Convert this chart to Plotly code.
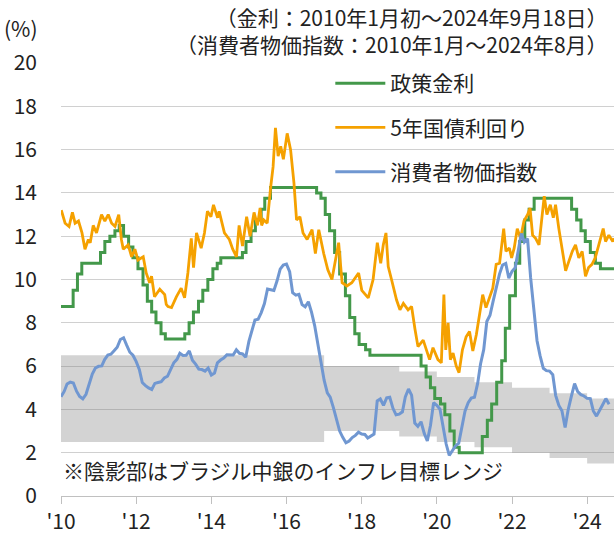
import plotly.graph_objects as go
import pandas as pd

# ---------------- data ----------------
selic_dates = ["2010-01-01","2010-04-29","2010-06-10","2010-07-22","2011-01-20","2011-03-03","2011-04-21","2011-06-09",
               "2011-07-21","2011-09-01","2011-10-20","2011-12-01","2012-01-19","2012-03-08","2012-04-19","2012-05-31",
               "2012-07-12","2012-08-30","2012-10-11","2013-04-18","2013-05-30","2013-07-11","2013-08-29","2013-10-10",
               "2013-11-28","2014-01-16","2014-02-27","2014-04-03","2014-10-30","2014-12-04","2015-01-22","2015-03-05",
               "2015-04-30","2015-06-04","2015-07-30","2016-10-20","2016-12-01","2017-01-12","2017-02-23","2017-04-13",
               "2017-06-01","2017-07-27","2017-09-07","2017-10-26","2017-12-07","2018-02-08","2018-03-22","2019-08-01",
               "2019-09-19","2019-10-31","2019-12-12","2020-02-06","2020-03-19","2020-05-07","2020-06-18","2020-08-06",
               "2021-03-18","2021-05-06","2021-06-17","2021-08-05","2021-09-23","2021-10-28","2021-12-09","2022-02-03",
               "2022-03-17","2022-05-05","2022-06-16","2022-08-04","2023-08-03","2023-09-21","2023-11-02","2023-12-14",
               "2024-02-01","2024-03-21","2024-05-09","2024-09-18"]
selic_rates = [8.75,9.5,10.25,10.75,11.25,11.75,12.0,12.25,
               12.5,12.0,11.5,11.0,10.5,9.75,9.0,8.5,
               8.0,7.5,7.25,7.5,8.0,8.5,9.0,9.5,
               10.0,10.5,10.75,11.0,11.25,11.75,12.25,12.75,
               13.25,13.75,14.25,14.0,13.75,13.0,12.25,11.25,
               10.25,9.25,8.25,7.5,7.0,6.75,6.5,6.0,
               5.5,5.0,4.5,4.25,3.75,3.0,2.25,2.0,
               2.75,3.5,4.25,5.25,6.25,7.75,9.25,10.75,
               11.75,12.75,13.25,13.75,13.25,12.75,12.25,11.75,
               11.25,10.75,10.5,10.5]

bond_dates = ["2010-01-04","2010-02-10","2010-03-20","2010-04-22","2010-05-18","2010-06-20","2010-07-24","2010-08-22",
              "2010-09-24","2010-10-12","2010-11-10","2010-12-12","2011-01-30","2011-03-03","2011-04-05","2011-05-08",
              "2011-06-10","2011-07-16","2011-08-11","2011-08-29","2011-10-16","2011-11-18","2011-12-20","2012-01-19",
              "2012-03-10","2012-04-08","2012-05-11","2012-05-30","2012-06-28","2012-08-18","2012-10-05","2012-10-20",
              "2012-11-06","2012-12-10","2013-01-26","2013-03-14","2013-04-16","2013-05-18","2013-06-20","2013-07-12",
              "2013-08-10","2013-09-24","2013-10-26","2013-11-24","2013-12-28","2014-01-22","2014-03-03","2014-03-18",
              "2014-05-08","2014-06-25","2014-07-28","2014-09-02","2014-09-28","2014-10-31","2014-12-10","2015-01-12",
              "2015-02-20","2015-03-25","2015-04-20","2015-05-05","2015-05-26","2015-06-28","2015-07-30","2015-08-24",
              "2015-09-16","2015-10-12","2015-11-06","2015-12-02","2016-01-08","2016-02-10","2016-03-14","2016-04-08",
              "2016-05-11","2016-06-10","2016-07-20","2016-09-06","2016-10-08","2016-11-10","2016-12-28","2017-02-06",
              "2017-03-18","2017-05-22","2017-06-25","2017-08-10","2017-09-27","2017-12-02","2018-01-02","2018-03-06",
              "2018-04-22","2018-06-02","2018-07-05","2018-07-30","2018-08-25","2018-09-16","2018-10-18","2018-12-06",
              "2019-01-08","2019-02-10","2019-03-28","2019-05-01","2019-06-03","2019-07-02","2019-08-22","2019-09-20",
              "2019-10-23","2019-11-25","2020-01-12","2020-02-14","2020-03-10","2020-03-28","2020-04-20","2020-05-12",
              "2020-06-07","2020-07-08","2020-08-04","2020-09-06","2020-10-12","2020-11-14","2020-12-16","2021-01-19",
              "2021-02-21","2021-03-22","2021-04-23","2021-05-26","2021-06-28","2021-07-31","2021-09-02","2021-10-12",
              "2021-11-03","2021-12-06","2021-12-28","2022-01-22","2022-02-21","2022-03-25","2022-04-27","2022-06-02",
              "2022-06-25","2022-07-20","2022-08-18","2022-09-20","2022-10-16","2022-11-10","2022-12-06","2023-01-08",
              "2023-02-06","2023-02-28","2023-04-01","2023-05-04","2023-06-06","2023-07-08","2023-08-10","2023-09-10",
              "2023-10-12","2023-11-14","2023-12-16","2024-01-15","2024-02-17","2024-03-20","2024-04-22","2024-06-05",
              "2024-06-28","2024-07-30","2024-09-06","2024-09-18"]
bond_yields = [13.2,12.6,12.45,13.1,12.6,12.7,12.15,11.4,
               11.85,11.7,12.5,12.15,13.0,12.7,13.0,12.6,
               12.45,13.0,11.85,11.4,11.6,11.05,11.4,10.9,
               11.05,10.3,9.85,10.15,9.2,9.55,9.3,8.85,
               8.75,8.7,9.2,9.6,9.15,10.3,11.9,10.55,
               12.15,11.45,12.15,13.15,12.9,13.45,12.85,13.15,
               12.15,11.85,11.4,11.05,12.5,11.55,12.9,12.0,
               13.1,12.5,13.3,12.5,12.75,12.6,14.2,15.2,
               17.0,15.7,16.15,15.55,16.75,16.0,14.45,12.75,
               12.9,12.15,11.85,12.3,11.2,12.3,11.2,10.45,
               10.0,11.7,9.85,9.7,9.85,10.3,9.5,9.15,
               10.0,11.7,10.75,11.6,12.15,10.6,10.0,9.05,
               8.6,8.9,8.6,8.75,7.7,6.9,7.2,6.75,
               6.3,6.85,6.3,6.15,9.3,6.75,8.0,6.3,
               6.6,6.0,5.7,6.75,7.35,7.6,6.7,7.45,
               8.55,9.3,8.7,9.15,9.6,10.7,10.75,12.35,
               11.3,11.45,11.0,11.45,12.35,11.9,12.7,13.0,
               13.3,12.05,11.9,11.6,12.7,13.85,13.0,13.45,
               12.85,13.45,12.35,11.45,10.4,10.85,11.3,11.6,
               11.0,11.3,10.15,10.55,10.7,11.0,11.6,12.35,
               11.75,12.05,11.75,11.9]

cpi_start = "2010-01-01"
cpi_yoy = [4.59,4.83,5.17,5.26,5.22,4.84,4.60,4.49,4.70,5.20,5.63,5.91,
           5.99,6.01,6.30,6.51,6.55,6.71,6.87,7.23,7.31,6.97,6.64,6.50,
           6.22,5.85,5.24,5.10,4.99,4.92,5.20,5.24,5.28,5.45,5.53,5.84,
           6.15,6.31,6.59,6.49,6.50,6.70,6.27,6.09,5.86,5.84,5.77,5.91,
           5.59,5.68,6.15,6.28,6.37,6.52,6.50,6.51,6.75,6.59,6.56,6.41,
           7.14,7.70,8.13,8.17,8.47,8.89,9.56,9.53,9.49,9.93,10.48,10.67,
           10.71,10.36,9.39,9.28,9.32,8.84,8.74,8.97,8.48,7.87,6.99,6.29,
           5.35,4.76,4.57,4.08,3.60,3.00,2.71,2.46,2.54,2.70,2.80,2.95,
           2.86,2.84,2.68,2.76,2.86,4.39,4.48,4.19,4.53,4.56,4.05,3.75,
           3.78,3.89,4.58,4.94,4.66,3.37,3.22,3.43,2.89,2.54,3.27,4.31,
           4.19,4.01,3.30,2.40,1.88,2.13,2.31,2.44,3.14,3.92,4.31,4.52,
           4.56,5.20,6.10,6.76,8.06,8.35,8.99,9.68,10.25,10.67,10.74,10.06,
           10.38,10.54,11.30,12.13,11.73,11.89,10.07,8.73,7.17,6.47,5.90,5.79,
           5.77,5.60,4.65,4.18,3.94,3.16,3.99,4.61,5.19,4.82,4.68,4.62,
           4.51,4.50,3.93,3.69,3.93,4.23,4.50,4.24]

target_years = [2010,2011,2012,2013,2014,2015,2016,2017,2018,2019,2020,2021,2022,2023,2024]
target_lower = [2.5,2.5,2.5,2.5,2.5,2.5,2.5,3.0,3.0,2.75,2.5,2.25,2.0,1.75,1.5]
target_upper = [6.5,6.5,6.5,6.5,6.5,6.5,6.5,6.0,6.0,5.75,5.5,5.25,5.0,4.75,4.5]
end_date = "2024-09-18"

tick_dates = ["2010-01-01","2012-01-01","2014-01-01","2016-01-01","2018-01-01","2020-01-01","2022-01-01","2024-01-01"]
tick_labels = ["'10","'12","'14","'16","'18","'20","'22","'24"]

names = ["政策金利", "5年国債利回り", "消費者物価指数"]
title_lines = ["（金利：2010年1月初～2024年9月18日）", "（消費者物価指数：2010年1月～2024年8月）"]
note_text = "※陰影部はブラジル中銀のインフレ目標レンジ"

# ---------------- figure ----------------
FONT = "Noto Sans CJK JP"
GREEN = "#43984a"
ORANGE = "#f5a100"
BLUE = "#7097d1"

cpi_dates = pd.date_range(cpi_start, periods=len(cpi_yoy), freq="MS")
band_x = [f"{y}-01-01" for y in target_years] + [end_date]
band_lo = target_lower + [target_lower[-1]]
band_hi = target_upper + [target_upper[-1]]

fig = go.Figure()
fig.add_trace(go.Scatter(x=band_x, y=band_lo, mode="lines", line=dict(width=0, shape="hv"),
                         showlegend=False, hoverinfo="skip"))
fig.add_trace(go.Scatter(x=band_x, y=band_hi, mode="lines", line=dict(width=0, shape="hv"),
                         fill="tonexty", fillcolor="rgba(120,120,120,0.33)",
                         showlegend=False, hoverinfo="skip"))
fig.add_trace(go.Scatter(x=selic_dates, y=selic_rates, mode="lines", name=names[0], legendgroup="a",
                         line=dict(color=GREEN, width=3, shape="hv")))
fig.add_trace(go.Scatter(x=bond_dates, y=bond_yields, mode="lines", name=names[1], legendgroup="b",
                         line=dict(color=ORANGE, width=2.8)))
fig.add_trace(go.Scatter(x=cpi_dates, y=cpi_yoy, mode="lines", name=names[2], legendgroup="c",
                         line=dict(color=BLUE, width=3)))

fig.update_layout(
    width=614, height=537,
    margin=dict(l=61, r=0, t=63, b=41),
    paper_bgcolor="white", plot_bgcolor="white",
    font=dict(family=FONT, size=21, color="#222222"),
    showlegend=True,
    legend=dict(x=0.487, y=1.0, xanchor="left", yanchor="top", bgcolor="rgba(0,0,0,0)",
                font=dict(size=21, color="#222222"), tracegroupgap=14, itemwidth=50,
                traceorder="grouped"),
    xaxis=dict(type="date", range=["2010-01-01", end_date], tickvals=tick_dates, ticktext=tick_labels,
               showgrid=False, showline=True, linecolor="#c0c0c0", linewidth=1.3,
               ticks="outside", ticklen=7, tickcolor="#c0c0c0", tickwidth=1.3,
               tickfont=dict(size=21), zeroline=False),
    yaxis=dict(range=[0, 20], dtick=2, showgrid=True, gridcolor="#d0d0d0", gridwidth=1.3,
               zeroline=False, showline=False, ticks="", tickfont=dict(size=21),
               ticklabelstandoff=23),
)

fig.add_annotation(text="(%)", xref="paper", yref="paper", x=-0.072, y=1.081,
                   xanchor="center", yanchor="middle", showarrow=False, font=dict(size=21))
fig.add_annotation(text=title_lines[0] + "<br>" + title_lines[1], xref="paper", yref="paper",
                   x=0.992, y=1.145, xanchor="right", yanchor="top", align="right",
                   showarrow=False, font=dict(size=21))
fig.add_annotation(text=note_text, xref="paper", yref="paper", x=0.0, y=0.061,
                   xanchor="left", yanchor="middle", showarrow=False, font=dict(size=21))

fig.write_html("out.html", config={"displayModeBar": False},
               post_script="document.body.style.margin='0';")
